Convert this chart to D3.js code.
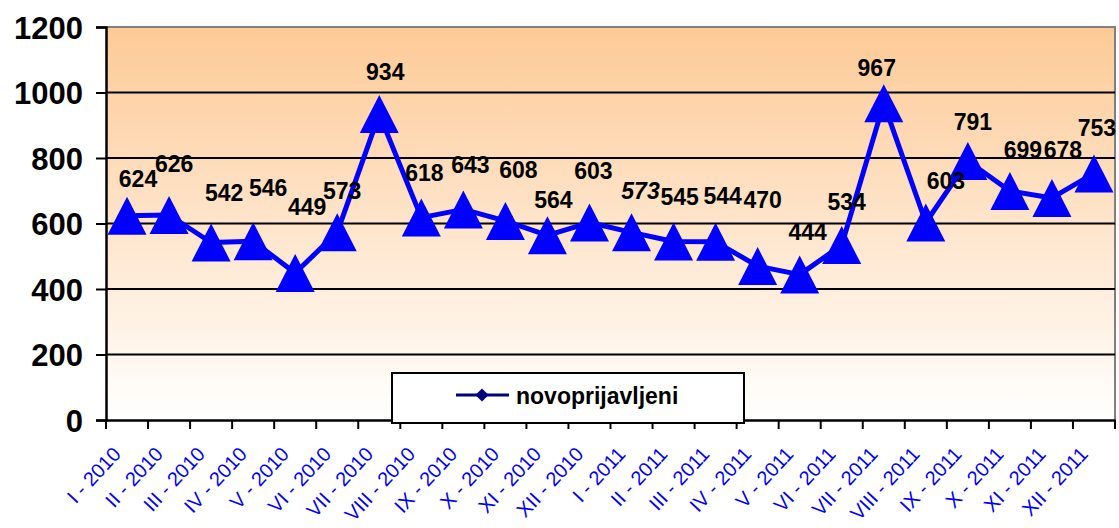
<!DOCTYPE html>
<html><head><meta charset="utf-8">
<script src="https://cdn.jsdelivr.net/npm/d3@7/dist/d3.min.js"></script>
<style>body{margin:0;background:#fff;}svg{display:block;}</style>
</head><body>
<svg id="c" width="1119" height="528"></svg>
<script>
const categories = ["I - 2010","II - 2010","III - 2010","IV - 2010","V - 2010","VI - 2010","VII - 2010","VIII - 2010","IX - 2010","X - 2010","XI - 2010","XII - 2010",
"I - 2011","II - 2011","III - 2011","IV - 2011","V - 2011","VI - 2011","VII - 2011","VIII - 2011","IX - 2011","X - 2011","XI - 2011","XII - 2011"];
const values = [624,626,542,546,449,573,934,618,643,608,564,603,573,545,544,470,444,534,967,603,791,699,678,753];
const yTicks = [0,200,400,600,800,1000,1200];
const seriesName = "novoprijavljeni";
// label placement offsets (dx, dy) relative to point
const labelDx = [11,5,13,15,12,5,6,3,7,13,6,4,9,6,7,5,8,5,-7,20,5,13,11,3];
const labelDy = [-29,-43,-41,-45,-58,-33,-34,-37,-36,-43,-27,-44,-33,-37,-38,-58,-35,-35,-27,-34,-31,-33,-40,-37];
const italicIdx = [12];

const svg = d3.select("#c");
const L = 106, R = 1115, T = 27, B = 420;
const FONT = "'Liberation Sans', Arial, sans-serif";
const x = d3.scaleBand().domain(categories).range([L, R]);
const y = d3.scaleLinear().domain([0, 1200]).range([B, T]);

const defs = svg.append("defs");
const g = defs.append("linearGradient").attr("id","bg").attr("x1",0).attr("y1",0).attr("x2",0).attr("y2",1);
g.append("stop").attr("offset","0%").attr("stop-color","#FDCA96");
g.append("stop").attr("offset","100%").attr("stop-color","#FFFFFF");

svg.append("rect").attr("x",L).attr("y",T).attr("width",R-L).attr("height",B-T).attr("fill","url(#bg)");
svg.append("path").attr("d",`M${L},${T}H${R}V${B}`).attr("fill","none").attr("stroke","#808080").attr("stroke-width",2);

// gridlines
svg.append("g").selectAll("line").data(yTicks.filter(d=>d>0 && d<1200)).join("line")
  .attr("x1",L).attr("x2",R).attr("y1",d=>y(d)).attr("y2",d=>y(d))
  .attr("stroke","#000").attr("stroke-width",2);

// y axis
const ya = svg.append("g").attr("transform",`translate(${L},0)`)
  .call(d3.axisLeft(y).tickValues(yTicks).tickSize(10).tickPadding(13).tickFormat(d3.format("d")));
ya.select(".domain").attr("stroke","#000").attr("stroke-width",2.5);
ya.selectAll(".tick line").attr("stroke","#000").attr("stroke-width",2);
ya.selectAll("text").attr("font-family",FONT).attr("font-weight","bold")
  .attr("font-size","31px").attr("fill","#000").attr("dy","0.36em");

// x axis
const xa = svg.append("g").attr("transform",`translate(0,${B})`)
  .call(d3.axisBottom(x).tickSize(0).tickFormat(""));
xa.select(".domain").attr("stroke","#000").attr("stroke-width",2.5);
const bounds = categories.map(c=>x(c)).concat([R]);
svg.append("g").selectAll("line").data(bounds).join("line")
  .attr("x1",d=>d).attr("x2",d=>d).attr("y1",B).attr("y2",B+9)
  .attr("stroke","#000").attr("stroke-width",2);
svg.append("g").selectAll("text").data(categories).join("text")
  .attr("transform",d=>`translate(${x(d)+x.bandwidth()/2-5},${B+35}) rotate(-47)`)
  .attr("text-anchor","end")
  .attr("font-family",FONT).attr("font-size","20px").attr("fill","#0000FF")
  .text(d=>d);

// legend
const lg = svg.append("g");
lg.append("rect").attr("x",392).attr("y",373).attr("width",352).attr("height",50)
  .attr("fill","#fff").attr("stroke","#000").attr("stroke-width",2);
lg.append("line").attr("x1",456).attr("x2",509).attr("y1",395).attr("y2",395).attr("stroke","#000080").attr("stroke-width",3);
lg.append("path").attr("d",d3.symbol().type(d3.symbolDiamond2).size(110)()).attr("transform","translate(482,395)").attr("fill","#000080");
lg.append("text").attr("x",516).attr("y",404).attr("font-family",FONT)
  .attr("font-weight","bold").attr("font-size","23px").attr("fill","#000").text(seriesName);

// line
const px = (d,i)=>x(categories[i])+x.bandwidth()/2;
svg.append("path").datum(values)
  .attr("d", d3.line().x(px).y(d=>y(d)))
  .attr("fill","none").attr("stroke","#0000FF").attr("stroke-width",5).attr("stroke-linejoin","round");

// markers
svg.append("g").selectAll("path").data(values).join("path")
  .attr("d",(d,i)=>{const cx=px(d,i), cy=y(d); return `M${cx},${cy-19}L${cx+19.5},${cy+19}L${cx-19.5},${cy+19}Z`;})
  .attr("fill","#0000FF");

// labels
svg.append("g").selectAll("text").data(values).join("text")
  .attr("x",(d,i)=>px(d,i)+labelDx[i]).attr("y",(d,i)=>y(d)+labelDy[i])
  .attr("text-anchor","middle")
  .attr("font-family",FONT).attr("font-weight","bold")
  .attr("font-size","23px").attr("fill","#000")
  .attr("font-style",(d,i)=>italicIdx.includes(i)?"italic":"normal")
  .text(d=>d);
</script>
</body></html>
